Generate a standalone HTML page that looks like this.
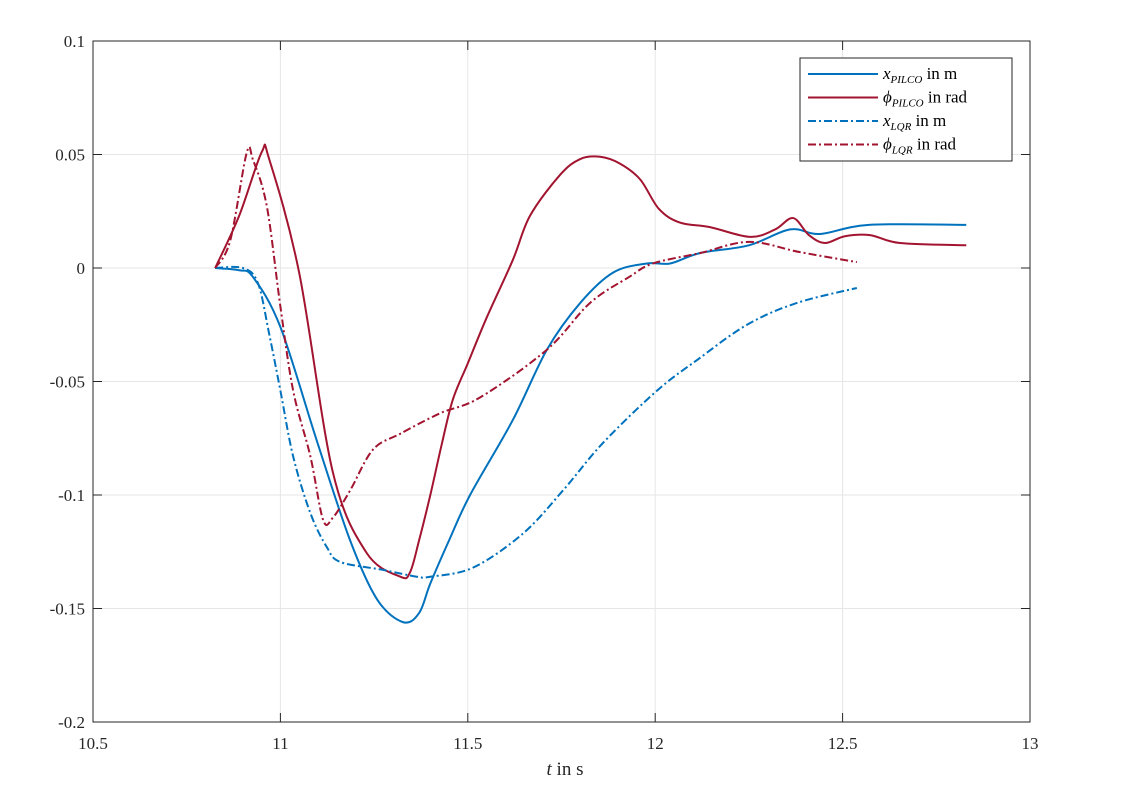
<!DOCTYPE html>
<html><head><meta charset="utf-8"><style>
body{margin:0;background:#fff;}
svg{display:block;font-family:"Liberation Serif",serif;}
</style></head><body>
<svg id="chart" width="1130" height="802" viewBox="0 0 1130 802">
<rect x="0" y="0" width="1130" height="802" fill="#fff"/>
<g id="grid"></g>
<g id="axes"></g>
<g id="series"></g>
<g id="legend"></g>
</svg>
<script>
const xTicks=[10.5,11,11.5,12,12.5,13];
const xTickLabels=["10.5","11","11.5","12","12.5","13"];
const yTicks=[0.1,0.05,0,-0.05,-0.1,-0.15,-0.2];
const yTickLabels=["0.1","0.05","0","-0.05","-0.1","-0.15","-0.2"];
const xPilcoT=[10.826,10.89,10.927,11.0,11.097,11.186,11.258,11.327,11.37,11.40,11.45,11.506,11.62,11.711,11.80,11.888,11.978,12.04,12.12,12.25,12.36,12.44,12.57,12.83];
const xPilcoV=[0,-0.001,-0.004,-0.026,-0.076,-0.12,-0.146,-0.156,-0.152,-0.139,-0.12,-0.100,-0.067,-0.036,-0.0154,-0.002,0.002,0.002,0.0066,0.010,0.017,0.015,0.019,0.019];
const phiPilcoT=[10.826,10.89,10.95,10.97,11.05,11.14,11.23,11.32,11.346,11.37,11.40,11.43,11.46,11.50,11.55,11.62,11.666,11.746,11.80,11.853,11.906,11.96,12.01,12.066,12.146,12.253,12.32,12.368,12.41,12.453,12.506,12.573,12.653,12.83];
const phiPilcoV=[0,0.023,0.051,0.048,-0.002,-0.09,-0.1255,-0.136,-0.134,-0.12,-0.10,-0.078,-0.058,-0.042,-0.022,0.0035,0.023,0.041,0.048,0.049,0.046,0.039,0.026,0.020,0.018,0.0137,0.017,0.022,0.0145,0.011,0.014,0.0145,0.011,0.010];
const xLqrT=[10.826,10.90,10.94,10.97,11.0,11.034,11.08,11.124,11.16,11.274,11.364,11.40,11.514,11.647,11.754,11.861,12.005,12.112,12.245,12.378,12.538];
const xLqrV=[0,0,-0.0066,-0.029,-0.054,-0.083,-0.108,-0.123,-0.1295,-0.133,-0.136,-0.136,-0.132,-0.117,-0.098,-0.077,-0.054,-0.0405,-0.025,-0.0154,-0.0088];
const phiLqrT=[10.826,10.866,10.91,10.927,10.964,11.0,11.034,11.08,11.114,11.14,11.186,11.247,11.32,11.426,11.533,11.711,11.826,11.93,11.994,12.12,12.25,12.386,12.538];
const phiLqrV=[0,0.012,0.0507,0.0476,0.027,-0.017,-0.054,-0.083,-0.111,-0.11,-0.098,-0.080,-0.073,-0.064,-0.057,-0.036,-0.0154,-0.004,0.002,0.0066,0.0115,0.007,0.0026];

const X0=93,X1=1030,Y0=722,Y1=41;
const sx=t=>X0+(t-10.5)/(13-10.5)*(X1-X0);
const sy=v=>Y0-(v+0.2)/(0.3)*(Y0-Y1);
const NS="http://www.w3.org/2000/svg";
function mk(tag,attrs,parent){const e=document.createElementNS(NS,tag);for(const k in attrs)e.setAttribute(k,attrs[k]);parent.appendChild(e);return e;}
const grid=document.getElementById('grid'),axes=document.getElementById('axes'),series=document.getElementById('series'),legend=document.getElementById('legend');
xTicks.forEach((t,i)=>{
  const g=mk('line',{x1:sx(t),x2:sx(t),y1:Y1,y2:Y0,stroke:'#e6e6e6','stroke-width':1},grid);
  
  
  const tk=mk('line',{x1:sx(t),x2:sx(t),y1:Y0,y2:Y0-9,stroke:'#262626'},axes);
  
  
  const tk2=mk('line',{x1:sx(t),x2:sx(t),y1:Y1,y2:Y1+9,stroke:'#262626'},axes);
  
  
  const tx=mk('text',{x:sx(t),y:Y0+27,'text-anchor':'middle','font-size':17,fill:'#262626'},axes);
  tx.textContent=xTickLabels[i];
  
  
});
yTicks.forEach((v,i)=>{
  const g=mk('line',{x1:X0,x2:X1,y1:sy(v),y2:sy(v),stroke:'#e6e6e6','stroke-width':1},grid);
  
  
  const tk=mk('line',{x1:X0,x2:X0+9,y1:sy(v),y2:sy(v),stroke:'#262626'},axes);
  
  
  const tk2=mk('line',{x1:X1,x2:X1-9,y1:sy(v),y2:sy(v),stroke:'#262626'},axes);
  
  
  const tx=mk('text',{x:X0-8,y:sy(v)+6,'text-anchor':'end','font-size':17,fill:'#262626'},axes);
  tx.textContent=yTickLabels[i];
  
  
});
const box=mk('rect',{x:X0,y:Y1,width:X1-X0,height:Y0-Y1,fill:'none',stroke:'#262626','stroke-width':1},axes);


const xl=mk('text',{x:565,y:775,'text-anchor':'middle','font-size':19,fill:'#262626'},axes);
xl.innerHTML='<tspan font-style="italic">t</tspan> in s';



const defs=[
 [xPilcoT,xPilcoV,'#0072BD','none','x-pilco-line'],
 [phiPilcoT,phiPilcoV,'#A2142F','none','phi-pilco-line'],
 [xLqrT,xLqrV,'#0072BD','8,3,2,3','x-lqr-line'],
 [phiLqrT,phiLqrV,'#A2142F','8,3,2,3','phi-lqr-line']];
function smooth(pts){
  let d='M'+pts[0][0]+','+pts[0][1];
  for(let i=0;i<pts.length-1;i++){
    const p0=pts[Math.max(0,i-1)],p1=pts[i],p2=pts[i+1],p3=pts[Math.min(pts.length-1,i+2)];
    const c1=[p1[0]+(p2[0]-p0[0])/6,p1[1]+(p2[1]-p0[1])/6];
    const c2=[p2[0]-(p3[0]-p1[0])/6,p2[1]-(p3[1]-p1[1])/6];
    d+=' C'+c1[0]+','+c1[1]+' '+c2[0]+','+c2[1]+' '+p2[0]+','+p2[1];
  }
  return d;
}
defs.forEach(([T,V,c,dash,name])=>{
  const pts=T.map((t,i)=>[sx(t),sy(V[i])]);
  const p=mk('path',{d:smooth(pts),fill:'none',stroke:c,'stroke-width':2,'stroke-dasharray':dash,'stroke-linejoin':'round'},series);
  
  
});
const lb=mk('rect',{x:800,y:58,width:212,height:103,fill:'#fff',stroke:'#262626','stroke-width':1},legend);


const entries=[['#0072BD','none','x','PILCO',' in m'],['#A2142F','none','ϕ','PILCO',' in rad'],['#0072BD','8,3,2,3','x','LQR',' in m'],['#A2142F','8,3,2,3','ϕ','LQR',' in rad']];
entries.forEach(([c,dash,sym,sub,rest],i)=>{
  const y=74+i*23.5;
  const ln=mk('line',{x1:808,x2:878,y1:y,y2:y,stroke:c,'stroke-width':2,'stroke-dasharray':dash},legend);
  
  
  const t=mk('text',{x:883,y:y+5,'font-size':17,fill:'#000'},legend);
  t.innerHTML='<tspan font-style="italic">'+sym+'</tspan><tspan font-style="italic" font-size="11" dy="4">'+sub+'</tspan><tspan dy="-4">'+rest+'</tspan>';
  
  
});
</script>
</body></html>
